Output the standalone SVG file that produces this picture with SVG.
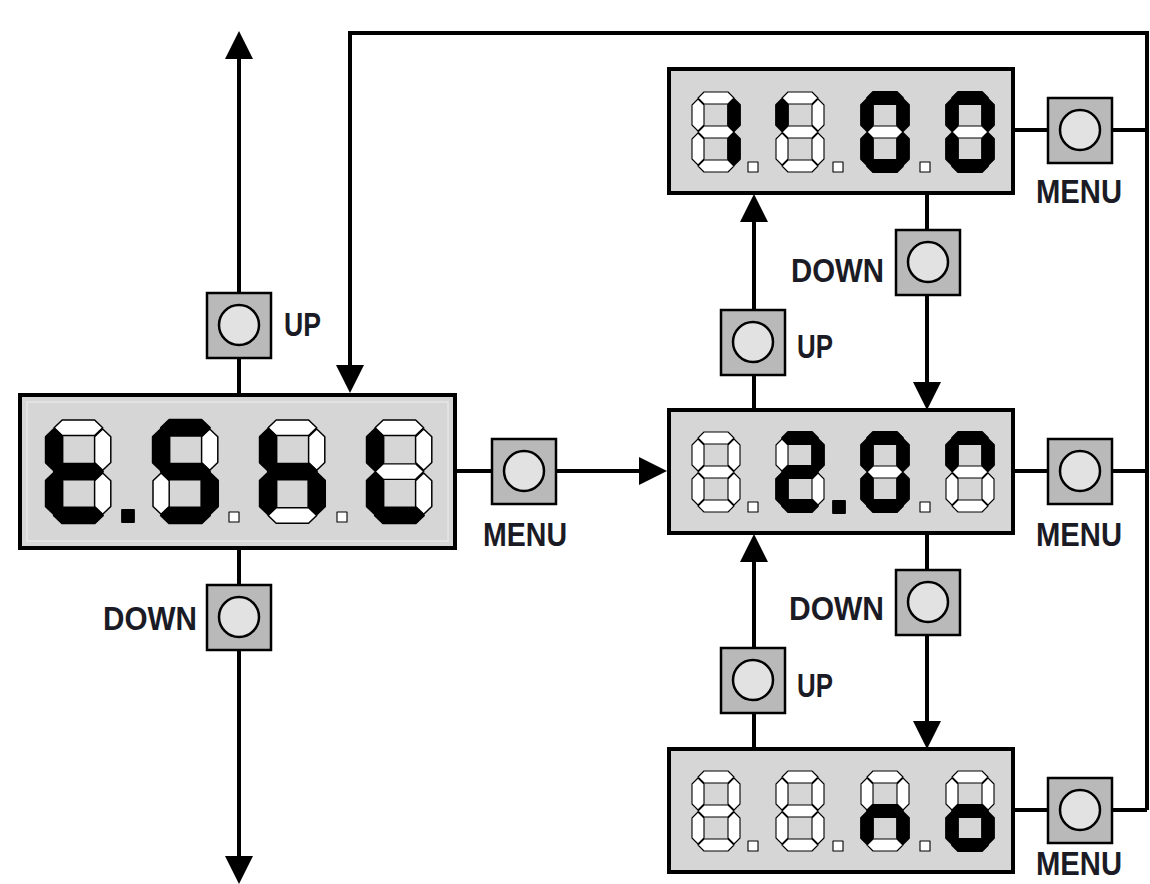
<svg xmlns="http://www.w3.org/2000/svg" xmlns:xlink="http://www.w3.org/1999/xlink" width="1150" height="884" viewBox="0 0 1150 884">
<style>
.bg{fill:#ffffff}
.disp{fill:#d6d6d6;stroke:#000;stroke-width:4}
.inner{fill:none;stroke:#e6e6e6;stroke-width:1.5}
.btn{fill:#b9b9b9;stroke:#000;stroke-width:2.5}
.knob{fill:#e2e2e2;stroke:#000;stroke-width:2.5}
.wire{fill:none;stroke:#000;stroke-width:4}
.on{fill:#000;stroke:#000;stroke-width:1.8;stroke-linejoin:round}
.off{fill:#fff;stroke:#000;stroke-width:1.1;stroke-linejoin:round}
.lbl{font-family:"Liberation Sans",Arial,sans-serif;font-weight:bold;font-size:34px;fill:#1b1b26}
</style>
<defs>
<marker id="ah" viewBox="0 0 28 28" refX="1" refY="14" markerWidth="28" markerHeight="28" markerUnits="userSpaceOnUse" orient="auto">
<path d="M0,0 L28,14 L0,28 z" fill="#000"/>
</marker>
<polygon id="sa" points="6,6 12,0 36,0 42,6 36,12 12,12"/>
<polygon id="sg" points="6,40 12,34 36,34 42,40 36,46 12,46"/>
<polygon id="sd" points="6,74 12,68 36,68 42,74 36,80 12,80"/>
<polygon id="sf" points="6,7 12,13 12,33 6,39 0,33 0,13"/>
<polygon id="sb" points="42,7 48,13 48,33 42,39 36,33 36,13"/>
<polygon id="se" points="6,41 12,47 12,67 6,73 0,67 0,47"/>
<polygon id="sc" points="42,41 48,47 48,67 42,73 36,67 36,47"/>
</defs>
<rect class="bg" x="0" y="0" width="1150" height="884"/>

<g id="connectors">
<line class="wire" x1="239" y1="293" x2="239" y2="58" marker-end="url(#ah)"/>
<line class="wire" x1="239" y1="395" x2="239" y2="358"/>
<line class="wire" x1="239" y1="548" x2="239" y2="857" marker-end="url(#ah)"/>
<polyline class="wire" points="1147,810 1147,33 350,33 350,366" marker-end="url(#ah)"/>
<line class="wire" x1="455" y1="471" x2="640" y2="471" marker-end="url(#ah)"/>
<line class="wire" x1="927" y1="193" x2="927" y2="383" marker-end="url(#ah)"/>
<line class="wire" x1="754" y1="410" x2="754" y2="221" marker-end="url(#ah)"/>
<line class="wire" x1="927" y1="533" x2="927" y2="722" marker-end="url(#ah)"/>
<line class="wire" x1="754" y1="749" x2="754" y2="561" marker-end="url(#ah)"/>
<line class="wire" x1="1013" y1="130" x2="1147" y2="130"/>
<line class="wire" x1="1013" y1="471" x2="1147" y2="471"/>
<line class="wire" x1="1013" y1="810" x2="1147" y2="810"/>
</g>

<g id="display-tshl">
<rect class="disp" x="20" y="395" width="435" height="153"/>
<rect class="inner" x="27" y="402" width="421" height="139"/>
<g transform="translate(46,420) scale(1.35,1.29)">
<use href="#sa" class="off"/><use href="#sb" class="off"/><use href="#sc" class="off"/>
<use href="#sf" class="on"/><use href="#sg" class="on"/><use href="#se" class="on"/><use href="#sd" class="on"/>
</g>
<rect class="on" x="122" y="510" width="12" height="12"/>
<g transform="translate(153,420) scale(1.35,1.29)">
<use href="#sb" class="off"/><use href="#se" class="off"/>
<use href="#sa" class="on"/><use href="#sf" class="on"/><use href="#sg" class="on"/><use href="#sc" class="on"/><use href="#sd" class="on"/>
</g>
<rect class="off" x="229" y="512" width="10" height="10"/>
<g transform="translate(260,420) scale(1.35,1.29)">
<use href="#sa" class="off"/><use href="#sb" class="off"/><use href="#sd" class="off"/>
<use href="#sf" class="on"/><use href="#sg" class="on"/><use href="#se" class="on"/><use href="#sc" class="on"/>
</g>
<rect class="off" x="337" y="512" width="10" height="10"/>
<g transform="translate(367,420) scale(1.35,1.29)">
<use href="#sa" class="off"/><use href="#sb" class="off"/><use href="#sc" class="off"/><use href="#sg" class="off"/>
<use href="#sf" class="on"/><use href="#se" class="on"/><use href="#sd" class="on"/>
</g>
</g>

<g id="display-1100">
<rect class="disp" x="669" y="69" width="344" height="124"/>
<g transform="translate(692,92)">
<use href="#sa" class="off"/><use href="#sf" class="off"/><use href="#sg" class="off"/><use href="#se" class="off"/><use href="#sd" class="off"/>
<use href="#sb" class="on"/><use href="#sc" class="on"/>
</g>
<rect class="off" x="748" y="162" width="10" height="10"/>
<g transform="translate(776,92)">
<use href="#sa" class="off"/><use href="#sb" class="off"/><use href="#sg" class="off"/><use href="#se" class="off"/><use href="#sc" class="off"/><use href="#sd" class="off"/>
<use href="#sf" class="on"/>
</g>
<rect class="off" x="833" y="162" width="10" height="10"/>
<g transform="translate(861,92)">
<use href="#sg" class="off"/>
<use href="#sa" class="on"/><use href="#sb" class="on"/><use href="#sc" class="on"/><use href="#sd" class="on"/><use href="#se" class="on"/><use href="#sf" class="on"/>
</g>
<rect class="off" x="920" y="162" width="10" height="10"/>
<g transform="translate(946,92)">
<use href="#sg" class="off"/>
<use href="#sa" class="on"/><use href="#sb" class="on"/><use href="#sc" class="on"/><use href="#sd" class="on"/><use href="#se" class="on"/><use href="#sf" class="on"/>
</g>
</g>

<g id="display-207">
<rect class="disp" x="669" y="410" width="344" height="123"/>
<g transform="translate(692,432)">
<use href="#sa" class="off"/><use href="#sb" class="off"/><use href="#sc" class="off"/><use href="#sd" class="off"/><use href="#se" class="off"/><use href="#sf" class="off"/><use href="#sg" class="off"/>
</g>
<rect class="off" x="748" y="502" width="10" height="10"/>
<g transform="translate(776,432)">
<use href="#sf" class="off"/><use href="#sc" class="off"/>
<use href="#sa" class="on"/><use href="#sb" class="on"/><use href="#sg" class="on"/><use href="#se" class="on"/><use href="#sd" class="on"/>
</g>
<rect class="on" x="833" y="501" width="12" height="12"/>
<g transform="translate(861,432)">
<use href="#sg" class="off"/>
<use href="#sa" class="on"/><use href="#sb" class="on"/><use href="#sc" class="on"/><use href="#sd" class="on"/><use href="#se" class="on"/><use href="#sf" class="on"/>
</g>
<rect class="off" x="920" y="502" width="10" height="10"/>
<g transform="translate(946,432)">
<use href="#sg" class="off"/><use href="#sc" class="off"/><use href="#se" class="off"/><use href="#sd" class="off"/>
<use href="#sa" class="on"/><use href="#sb" class="on"/><use href="#sf" class="on"/>
</g>
</g>

<g id="display-no">
<rect class="disp" x="669" y="749" width="344" height="123"/>
<g transform="translate(692,771)">
<use href="#sa" class="off"/><use href="#sb" class="off"/><use href="#sc" class="off"/><use href="#sd" class="off"/><use href="#se" class="off"/><use href="#sf" class="off"/><use href="#sg" class="off"/>
</g>
<rect class="off" x="748" y="841" width="10" height="10"/>
<g transform="translate(776,771)">
<use href="#sa" class="off"/><use href="#sb" class="off"/><use href="#sc" class="off"/><use href="#sd" class="off"/><use href="#se" class="off"/><use href="#sf" class="off"/><use href="#sg" class="off"/>
</g>
<rect class="off" x="833" y="841" width="10" height="10"/>
<g transform="translate(861,771)">
<use href="#sa" class="off"/><use href="#sb" class="off"/><use href="#sf" class="off"/><use href="#sd" class="off"/>
<use href="#sg" class="on"/><use href="#se" class="on"/><use href="#sc" class="on"/>
</g>
<rect class="off" x="920" y="841" width="10" height="10"/>
<g transform="translate(946,771)">
<use href="#sa" class="off"/><use href="#sb" class="off"/><use href="#sf" class="off"/>
<use href="#sg" class="on"/><use href="#se" class="on"/><use href="#sc" class="on"/><use href="#sd" class="on"/>
</g>
</g>

<g id="btn-left-up">
<rect class="btn" x="207" y="293" width="64" height="65"/>
<circle class="knob" cx="239" cy="325" r="20"/>
<text class="lbl" x="284" y="336" textLength="37" lengthAdjust="spacingAndGlyphs">UP</text>
</g>
<g id="btn-left-down">
<rect class="btn" x="207" y="585" width="64" height="65"/>
<circle class="knob" cx="239" cy="617" r="20"/>
<text class="lbl" x="103" y="630" textLength="94" lengthAdjust="spacingAndGlyphs">DOWN</text>
</g>
<g id="btn-left-menu">
<rect class="btn" x="492" y="439" width="64" height="65"/>
<circle class="knob" cx="524" cy="471" r="20"/>
<text class="lbl" x="483" y="546" textLength="84" lengthAdjust="spacingAndGlyphs">MENU</text>
</g>
<g id="btn-top-down">
<rect class="btn" x="896" y="230" width="64" height="65"/>
<circle class="knob" cx="928" cy="262" r="20"/>
<text class="lbl" x="791" y="282" textLength="93" lengthAdjust="spacingAndGlyphs">DOWN</text>
</g>
<g id="btn-top-up">
<rect class="btn" x="721" y="310" width="64" height="65"/>
<circle class="knob" cx="753" cy="342" r="20"/>
<text class="lbl" x="797" y="358" textLength="36" lengthAdjust="spacingAndGlyphs">UP</text>
</g>
<g id="btn-bot-down">
<rect class="btn" x="896" y="570" width="64" height="65"/>
<circle class="knob" cx="928" cy="602" r="20"/>
<text class="lbl" x="789" y="620" textLength="95" lengthAdjust="spacingAndGlyphs">DOWN</text>
</g>
<g id="btn-bot-up">
<rect class="btn" x="721" y="648" width="64" height="65"/>
<circle class="knob" cx="753" cy="680" r="20"/>
<text class="lbl" x="797" y="697" textLength="36" lengthAdjust="spacingAndGlyphs">UP</text>
</g>
<g id="btn-menu-1">
<rect class="btn" x="1048" y="98" width="64" height="65"/>
<circle class="knob" cx="1080" cy="130" r="20"/>
<text class="lbl" x="1036" y="203" textLength="86" lengthAdjust="spacingAndGlyphs">MENU</text>
</g>
<g id="btn-menu-2">
<rect class="btn" x="1048" y="439" width="64" height="65"/>
<circle class="knob" cx="1080" cy="471" r="20"/>
<text class="lbl" x="1036" y="546" textLength="86" lengthAdjust="spacingAndGlyphs">MENU</text>
</g>
<g id="btn-menu-3">
<rect class="btn" x="1048" y="778" width="64" height="65"/>
<circle class="knob" cx="1080" cy="810" r="20"/>
<text class="lbl" x="1036" y="875" textLength="86" lengthAdjust="spacingAndGlyphs">MENU</text>
</g>
</svg>
